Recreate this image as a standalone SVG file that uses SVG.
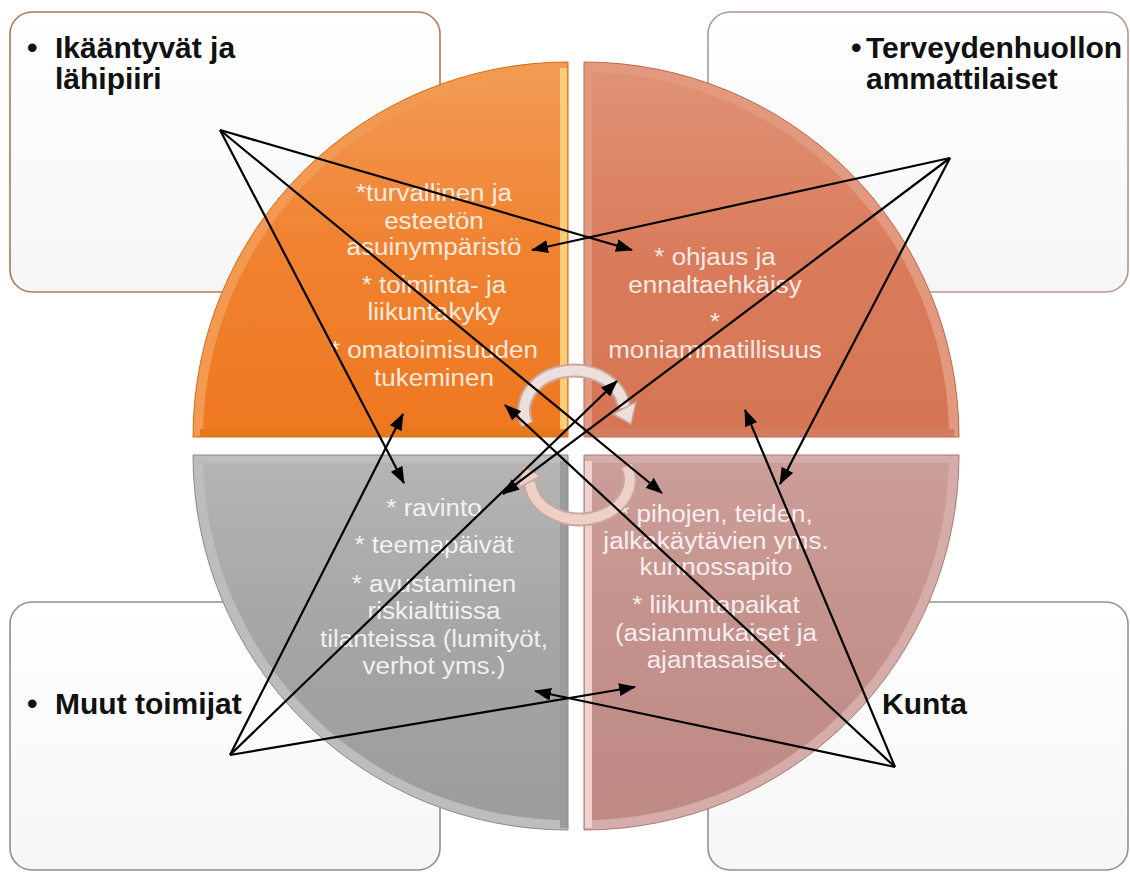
<svg xmlns="http://www.w3.org/2000/svg" width="1130" height="874" viewBox="0 0 1130 874">
<defs>
<style>
.box{fill:url(#boxg);stroke-width:1.6}
.lbl{font-family:"Liberation Sans",Arial,sans-serif;font-weight:bold;font-size:30px;fill:#111}
.qt{font-family:"Liberation Sans",Arial,sans-serif;font-size:23px;fill:#fff;fill-opacity:0.86;text-anchor:middle}
.con{fill:none;stroke:#000;stroke-width:2.2;marker-end:url(#ah)}
.arcO{fill:none;stroke:#c9a79c;stroke-width:14}
.arcI{fill:none;stroke-width:10}
</style>
<linearGradient id="boxg" x1="0" y1="0" x2="0" y2="1"><stop offset="0" stop-color="#ffffff"/><stop offset="1" stop-color="#f6f6f6"/></linearGradient>
<linearGradient id="gTL" x1="0" y1="0" x2="0" y2="1"><stop offset="0" stop-color="#f39a55"/><stop offset="0.5" stop-color="#f08230"/><stop offset="1" stop-color="#ee7820"/></linearGradient>
<linearGradient id="gTR" x1="0" y1="0" x2="0" y2="1"><stop offset="0" stop-color="#e09275"/><stop offset="0.5" stop-color="#d97c5c"/><stop offset="1" stop-color="#d67553"/></linearGradient>
<linearGradient id="gBL" x1="0" y1="0" x2="0" y2="1"><stop offset="0" stop-color="#b4b4b4"/><stop offset="0.5" stop-color="#a5a5a5"/><stop offset="1" stop-color="#9c9c9c"/></linearGradient>
<linearGradient id="gBR" x1="0" y1="0" x2="0" y2="1"><stop offset="0" stop-color="#cc9e99"/><stop offset="0.5" stop-color="#c4918c"/><stop offset="1" stop-color="#bf8984"/></linearGradient>
<marker id="ah" markerUnits="userSpaceOnUse" markerWidth="17" markerHeight="13" refX="16" refY="6.5" orient="auto">
<path d="M0,0 L17,6.5 L0,13 Z" fill="#000"/>
</marker>
</defs>
<rect width="1130" height="874" fill="#ffffff"/>

<g id="box-ikaantyvat">
<rect class="box" x="10" y="12" width="430" height="280" rx="22" stroke="#b07a55"/>
</g>
<g id="box-terveydenhuolto">
<rect class="box" x="708" y="12" width="420" height="280" rx="22" stroke="#b8968c"/>
</g>
<g id="box-muut">
<rect class="box" x="10" y="602" width="430" height="268" rx="22" stroke="#8e8e8e"/>
</g>
<g id="box-kunta">
<rect class="box" x="708" y="602" width="420" height="268" rx="22" stroke="#9a8e8e"/>
</g>

<g id="quad-tl">
<path d="M568,437 L193,437 A375,375 0 0 1 568,62 Z" fill="#f39a52" stroke="#d9690f" stroke-width="1"/>
<path d="M560,429 L203.1,429 A365,365 0 0 1 560,72.1 Z" fill="url(#gTL)"/>
<rect x="560" y="68" width="7" height="362" fill="#fbd47c" opacity="0.9"/>
<rect x="200" y="429" width="367" height="8" fill="#e0700f" opacity="0.8"/>
<g class="qt" transform="translate(434 0) scale(1.13 1) translate(-434 0)">
<text x="434" y="201">*turvallinen ja</text>
<text x="434" y="229">esteetön</text>
<text x="434" y="255">asuinympäristö</text>
<text x="434" y="293">* toiminta- ja</text>
<text x="434" y="320">liikuntakyky</text>
<text x="434" y="358">* omatoimisuuden</text>
<text x="434" y="386">tukeminen</text>
</g>
</g>

<g id="quad-tr">
<path d="M584,437 L584,62 A375,375 0 0 1 959,437 Z" fill="#e2997d" stroke="#c0654a" stroke-width="1"/>
<path d="M592,429 L592,72.1 A365,365 0 0 1 948.9,429 Z" fill="url(#gTR)"/>
<rect x="586" y="429" width="368" height="8" fill="#c96a4c" opacity="0.6"/>
<g class="qt" transform="translate(715 0) scale(1.13 1) translate(-715 0)">
<text x="715" y="265">* ohjaus ja</text>
<text x="715" y="293">ennaltaehkäisy</text>
<text x="715" y="330">*</text>
<text x="715" y="358">moniammatillisuus</text>
</g>
</g>

<g id="quad-bl">
<path d="M568,455 L568,830 A375,375 0 0 1 193,455 Z" fill="#bdbdbd" stroke="#8a8a8a" stroke-width="1"/>
<path d="M560,463 L560,819.9 A365,365 0 0 1 203.1,463 Z" fill="url(#gBL)"/>
<rect x="560" y="461" width="8" height="367" fill="#8f8f8f" opacity="0.7"/>
<g class="qt" transform="translate(434 0) scale(1.13 1) translate(-434 0)">
<text x="434" y="516">* ravinto</text>
<text x="434" y="553">* teemapäivät</text>
<text x="434" y="592">* avustaminen</text>
<text x="434" y="619">riskialttiissa</text>
<text x="434" y="647">tilanteissa (lumityöt,</text>
<text x="434" y="674">verhot yms.)</text>
</g>
</g>

<g id="quad-br">
<path d="M584,455 L959,455 A375,375 0 0 1 584,830 Z" fill="#d5aca7" stroke="#a87a75" stroke-width="1"/>
<path d="M592,463 L948.9,463 A365,365 0 0 1 592,819.9 Z" fill="url(#gBR)"/>
<rect x="585" y="461" width="7" height="367" fill="#f2d6d2" opacity="0.9"/>
<g class="qt" transform="translate(716 0) scale(1.13 1) translate(-716 0)">
<text x="716" y="522">* pihojen, teiden,</text>
<text x="716" y="549">jalkakäytävien yms.</text>
<text x="716" y="575">kunnossapito</text>
<text x="716" y="613">* liikuntapaikat</text>
<text x="716" y="641">(asianmukaiset ja</text>
<text x="716" y="668">ajantasaiset</text>
</g>
</g>

<g id="cycle-arrows">
<path class="arcO" d="M527,424 A50,40 0 1 1 624,408"/>
<path class="arcI" stroke="#ede0dc" d="M527,424 A50,40 0 1 1 624,408"/>
<polygon points="636,402 613,414 631,424" fill="#ede0dc" stroke="#c9a79c" stroke-width="1.5"/>
<path class="arcO" d="M627,466 A50,40 0 1 1 530,482"/>
<path class="arcI" stroke="#efd0c6" d="M627,466 A50,40 0 1 1 530,482"/>
<polygon points="518,488 541,476 523,466" fill="#efd0c6" stroke="#c9a79c" stroke-width="1.5"/>
</g>

<g id="labels">
<text class="lbl" x="27" y="58">•</text>
<text class="lbl" x="55" y="58">Ikääntyvät ja</text>
<text class="lbl" x="55" y="89">lähipiiri</text>
<text class="lbl" x="851" y="58">•</text>
<text class="lbl" x="866" y="58">Terveydenhuollon</text>
<text class="lbl" x="866" y="89">ammattilaiset</text>
<text class="lbl" x="27" y="714">•</text>
<text class="lbl" x="55" y="714">Muut toimijat</text>
<text class="lbl" x="882" y="714">Kunta</text>
</g>

<g id="connectors">
<line class="con" x1="220" y1="130" x2="632" y2="250"/>
<line class="con" x1="220" y1="130" x2="404" y2="483"/>
<line class="con" x1="220" y1="130" x2="662" y2="493"/>
<line class="con" x1="950" y1="158" x2="532" y2="250"/>
<line class="con" x1="950" y1="158" x2="503" y2="494"/>
<line class="con" x1="950" y1="158" x2="780" y2="484"/>
<line class="con" x1="230" y1="755" x2="403" y2="414"/>
<line class="con" x1="230" y1="755" x2="617" y2="381"/>
<line class="con" x1="230" y1="755" x2="635" y2="687"/>
<line class="con" x1="895" y1="767" x2="505" y2="405"/>
<line class="con" x1="895" y1="767" x2="745" y2="410"/>
<line class="con" x1="895" y1="767" x2="535" y2="691"/>
</g>
</svg>
